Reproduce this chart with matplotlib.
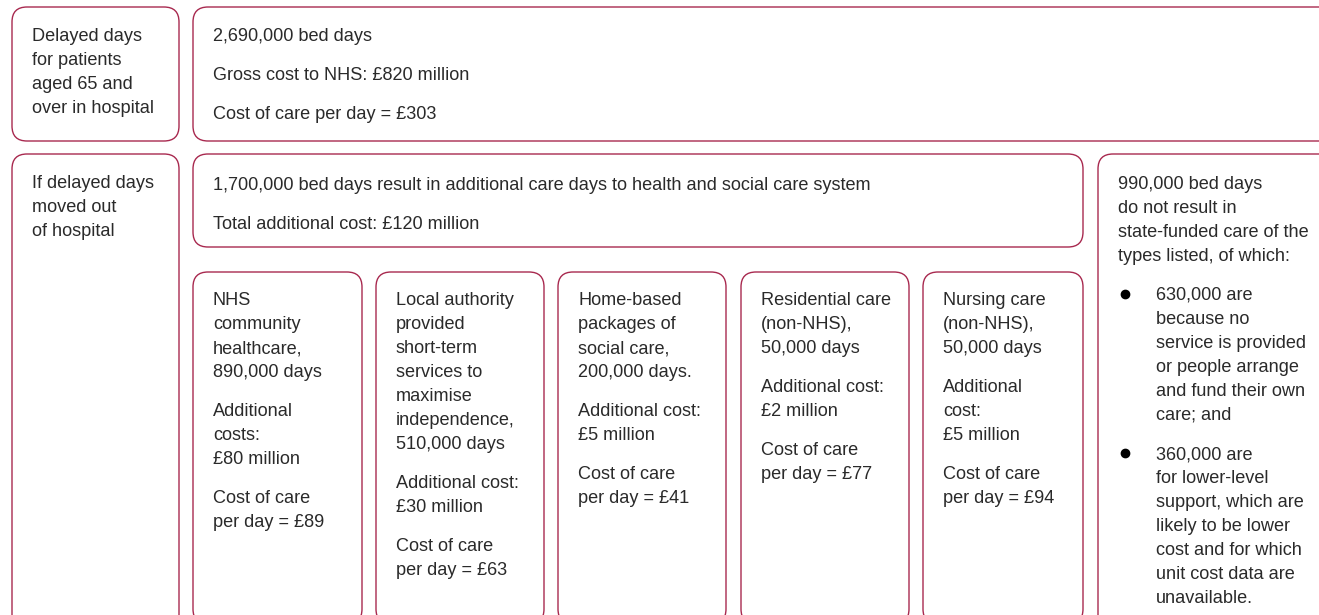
import matplotlib.pyplot as plt
from matplotlib.patches import FancyBboxPatch

# text of every box, as paragraphs of lines
top_left_text = [["Delayed days", "for patients", "aged 65 and", "over in hospital"]]
top_main_text = [["2,690,000 bed days"], ["Gross cost to NHS: £820 million"], ["Cost of care per day = £303"]]
mid_left_text = [["If delayed days", "moved out", "of hospital"]]
mid_main_text = [["1,700,000 bed days result in additional care days to health and social care system"],
                 ["Total additional cost: £120 million"]]
service_text = [
    [["NHS", "community", "healthcare,", "890,000 days"], ["Additional", "costs:", "£80 million"],
     ["Cost of care", "per day = £89"]],
    [["Local authority", "provided", "short-term", "services to", "maximise", "independence,", "510,000 days"],
     ["Additional cost:", "£30 million"], ["Cost of care", "per day = £63"]],
    [["Home-based", "packages of", "social care,", "200,000 days."], ["Additional cost:", "£5 million"],
     ["Cost of care", "per day = £41"]],
    [["Residential care", "(non-NHS),", "50,000 days"], ["Additional cost:", "£2 million"],
     ["Cost of care", "per day = £77"]],
    [["Nursing care", "(non-NHS),", "50,000 days"], ["Additional", "cost:", "£5 million"],
     ["Cost of care", "per day = £94"]],
]
right_text = [["990,000 bed days", "do not result in", "state-funded care of the", "types listed, of which:"]]
right_bullets = [["630,000 are", "because no", "service is provided", "or people arrange", "and fund their own",
                  "care; and"],
                 ["360,000 are", "for lower-level", "support, which are", "likely to be lower",
                  "cost and for which", "unit cost data are", "unavailable."]]

W, H = 1319, 615
EDGE = '#a8294f'
INK = '#2a2a2a'
FONT = 'Liberation Sans'
FS = 13.1
LINE = 24
GAP = 15
PAD_X = 20
PAD_Y = 28

fig = plt.figure(figsize=(W / 100, H / 100), dpi=100)
ax = fig.add_axes([0, 0, 1, 1])
ax.set_xlim(0, W)
ax.set_ylim(H, 0)
ax.axis('off')


def box(x0, y0, x1, y1):
    p = FancyBboxPatch((x0, y0), x1 - x0, y1 - y0,
                       boxstyle='round,pad=0,rounding_size=15',
                       fc='white', ec=EDGE, lw=1.0, clip_on=True)
    ax.add_patch(p)


def write(paras, x, y, bullet_x=None):
    for para in paras:
        if bullet_x is not None:
            ax.plot(bullet_x, y, 'o', ms=6, color='black')
        for line in para:
            ax.text(x, y + 6, line, fontsize=FS, family=FONT, color=INK,
                    ha='left', va='baseline')
            y += LINE
        y += GAP
    return y


# top row
box(12, 7, 179, 141)
write(top_left_text, 12 + PAD_X, 7 + PAD_Y)
box(193, 7, 1340, 141)
write(top_main_text, 193 + PAD_X, 7 + PAD_Y)

# second row
box(12, 154, 179, 640)
write(mid_left_text, 12 + PAD_X, 154 + PAD_Y)
box(193, 154, 1083, 247)
write(mid_main_text, 193 + PAD_X, 154 + PAD_Y + 2)

# service boxes
svc_left = [193, 376, 558, 741, 923]
svc_right = [362, 544, 726, 909, 1083]
for x0, x1, paras in zip(svc_left, svc_right, service_text):
    box(x0, 272, x1, 624)
    write(paras, x0 + PAD_X, 272 + 27)

# right column
box(1098, 154, 1340, 640)
y = write(right_text, 1098 + PAD_X, 154 + PAD_Y + 1)
write(right_bullets, 1156, y, bullet_x=1125)

fig.savefig('out.png', dpi=100)
